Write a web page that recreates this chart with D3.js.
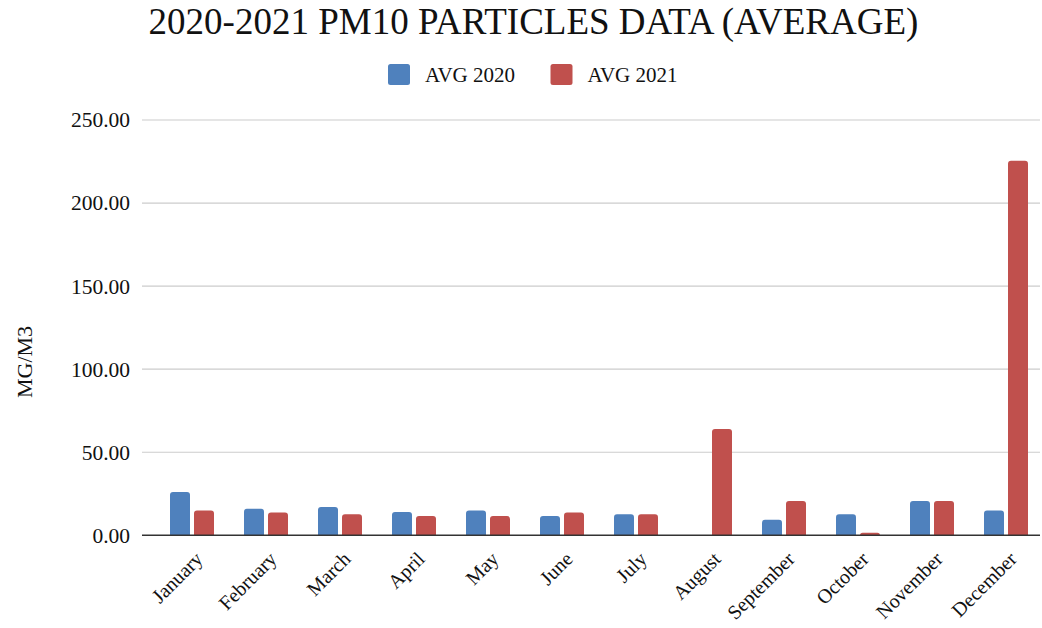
<!DOCTYPE html>
<html>
<head>
<meta charset="utf-8">
<script src="https://cdn.jsdelivr.net/npm/d3@7"></script>
<style>
  html, body { margin: 0; padding: 0; background: #fff; }
  svg { display: block; }
  text { font-family: "Liberation Serif", "Times New Roman", serif; fill: #111; }
</style>
</head>
<body>
<svg id="chart" width="1042" height="628"></svg>
<script>
const months = ["January","February","March","April","May","June","July","August","September","October","November","December"];
const seriesNames = ["AVG 2020", "AVG 2021"];
const avg2020 = [26, 16, 17, 14, 15, 11.6, 12.6, null, 9.4, 12.6, 20.6, 15];
const avg2021 = [15, 13.8, 12.6, 11.6, 11.6, 13.8, 12.6, 64, 20.6, 1.6, 20.6, 225.5];
const yTicks = [0, 50, 100, 150, 200, 250];
const colors = ["#4f81bd", "#c0504d"];

const svg = d3.select("#chart");
const plotLeft = 142, plotRight = 1040, plotTop = 120, plotBottom = 535.3;

const x = d3.scaleBand().domain(months).range([155, 1043]).paddingInner(30/74).paddingOuter(15/74);
const xs = d3.scaleBand().domain(seriesNames).range([0, x.bandwidth()]).paddingInner(1/6);
const y = d3.scaleLinear().domain([0, 250]).range([plotBottom, plotTop]);

// Title
svg.append("text").attr("x", 533.5).attr("y", 34).attr("text-anchor", "middle")
  .style("font-size", "37px").text("2020-2021 PM10 PARTICLES DATA (AVERAGE)");

// Legend
const legend = [{name: seriesNames[0], x: 388, c: colors[0]}, {name: seriesNames[1], x: 550.5, c: colors[1]}];
legend.forEach(l => {
  svg.append("rect").attr("x", l.x).attr("y", 64).attr("width", 22).attr("height", 21).attr("rx", 2.5).attr("fill", l.c);
  svg.append("text").attr("x", l.x + 37).attr("y", 81.5).style("font-size", "21px").text(l.name);
});

// Y axis ticks
const yAxis = d3.axisLeft(y).tickValues(yTicks).tickFormat(d3.format(".2f")).tickSize(0).tickPadding(12);
const gy = svg.append("g").attr("transform", `translate(${plotLeft},0)`).call(yAxis);
gy.select(".domain").remove();
gy.selectAll("text").style("font-size", "21.5px").style("font-family", '"Liberation Serif", "Times New Roman", serif').attr("fill", "#111");

// Gridlines
svg.append("g").selectAll("line").data(yTicks.filter(d => d > 0)).join("line")
  .attr("x1", plotLeft).attr("x2", plotRight)
  .attr("y1", d => y(d)).attr("y2", d => y(d))
  .attr("stroke", "#cccccc").attr("stroke-width", 1.2);

// Y axis title
svg.append("text").attr("transform", "translate(32,362) rotate(-90)").attr("text-anchor", "middle")
  .style("font-size", "22px").text("MG/M3");

// Bars with rounded top corners
function barPath(x0, w, yTop, yBase, r) {
  const h = yBase - yTop;
  r = Math.min(r, h, w / 2);
  return `M${x0},${yBase}V${yTop + r}Q${x0},${yTop} ${x0 + r},${yTop}H${x0 + w - r}Q${x0 + w},${yTop} ${x0 + w},${yTop + r}V${yBase}Z`;
}
const data = [avg2020, avg2021];
data.forEach((vals, si) => {
  svg.append("g").selectAll("path").data(months.map((m, i) => ({m, v: vals[i]})).filter(d => d.v != null && d.v > 0))
    .join("path")
    .attr("d", d => barPath(x(d.m) + xs(seriesNames[si]), xs.bandwidth(), y(d.v), y(0), 3))
    .attr("fill", colors[si]);
});

// X axis baseline
svg.append("line").attr("x1", plotLeft).attr("x2", plotRight).attr("y1", y(0)).attr("y2", y(0))
  .attr("stroke", "#333").attr("stroke-width", 1.5);

// X labels
svg.append("g").selectAll("text").data(months).join("text")
  .attr("transform", d => `translate(${x(d) + x.bandwidth() / 2 + 7},${y(0) + 20}) rotate(-45)`)
  .attr("text-anchor", "end").attr("dy", "0.35em")
  .style("font-size", "20px").text(d => d);
</script>
</body>
</html>
